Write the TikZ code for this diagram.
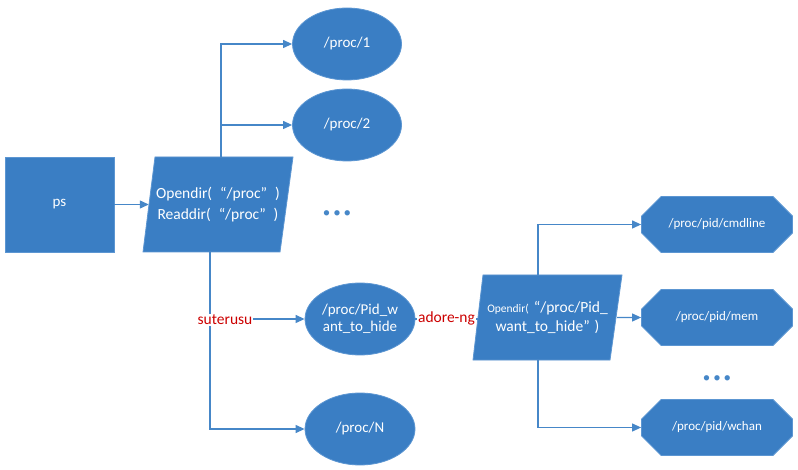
\documentclass[tikz,border=0pt]{standalone}
\usepackage{fontspec}
\setmainfont{Carlito}
\usetikzlibrary{shapes.geometric,shapes.misc,arrows.meta}
\definecolor{shapeblue}{RGB}{58,126,196}
\definecolor{edgeblue}{RGB}{92,150,210}
\definecolor{lineblue}{RGB}{70,135,200}
\definecolor{labelred}{RGB}{204,0,0}
\tikzset{
 shapebase/.style={fill=shapeblue, draw=edgeblue, line width=0.8pt, text=white, inner sep=0pt, font=\fontsize{15}{17}\selectfont},
 boxnode/.style={shapebase, rectangle, minimum width=109pt, minimum height=95pt},
 ellnode/.style={shapebase, ellipse, minimum width=109pt, minimum height=72pt, align=center},
 paraface/.style={fill=shapeblue, draw=edgeblue, line width=0.8pt},
 paratext/.style={rectangle, inner sep=0pt, text=white, align=center},
 octnode/.style={shapebase, chamfered rectangle, chamfered rectangle xsep=14pt, chamfered rectangle ysep=14pt, minimum width=151pt, minimum height=56pt, font=\fontsize{13}{15}\selectfont},
 conn/.style={draw=lineblue, line width=1.2pt},
 arr/.style={conn, -{Triangle[length=9pt,width=8pt]}},
 redlabel/.style={fill=white, text=labelred, inner sep=1pt, font=\fontsize{15.5}{17}\selectfont},
 dotsnode/.style={text=lineblue, font=\fontsize{15}{16}\selectfont},
}
\begin{document}
\begin{tikzpicture}[x=1pt,y=-1pt]
\fill[white] (0,0) rectangle (798,470);
\useasboundingbox (0,0) rectangle (798,470);
\node[boxnode] (ps) at (59.5,204.5) {ps};
% parallelogram 1
\path[paraface] (143,252) -- (155,157) -- (293,157) -- (280,252) -- cycle;
\node[paratext, minimum width=138pt, minimum height=95pt, font=\fontsize{15.5}{21}\selectfont] (P1) at (218,204.5) {Opendir(\hspace{8pt}“/proc”\hspace{8pt})\\Readdir(\hspace{8pt}“/proc”\hspace{8pt})};
\node[ellnode] (E1) at (347,44) {/proc/1};
\node[ellnode] (E2) at (347,125) {/proc/2};
\node[ellnode, minimum width=110pt] (EPid) at (360,319) {/proc/Pid\_w\\ant\_to\_hide};
\node[ellnode, minimum width=110pt] (EN) at (360,429) {/proc/N};
% parallelogram 2
\path[paraface] (473,360) -- (483,275) -- (622,275) -- (610,360) -- cycle;
\node[paratext, minimum width=139pt, minimum height=85pt, font=\fontsize{15.5}{19}\selectfont] (P2) at (547.5,317.5) {{\fontsize{11.5}{13}\selectfont Opendir(}\hspace{5pt}“/proc/Pid\_\\want\_to\_hide”\hspace{5pt})};
\node[octnode] (O1) at (717,224.5) {/proc/pid/cmdline};
\node[octnode] (O2) at (717,317.5) {/proc/pid/mem};
\node[octnode] (O3) at (717,427.5) {/proc/pid/wchan};
\node[dotsnode] (dots1) at (337,214) {•\hspace{3pt}•\hspace{3pt}•};
\node[dotsnode] (dots2) at (717,379) {•\hspace{3pt}•\hspace{3pt}•};
\draw[arr] (ps) -- (P1);
\coordinate (t1) at ([xshift=3pt]P1.north);
\draw[arr] (t1) |- (E1);
\draw[arr] (t1 |- E2) -- (E2);
\coordinate (b1) at ([xshift=-8pt]P1.south);
\draw[arr] (b1) |- (EN);
\draw[arr] (b1 |- EPid) -- (EPid);
\node[redlabel] (lsut) at (225,320) {suterusu};
\draw[conn] (EPid.east) -- (EPid.east -| P2.west);
\node[redlabel] (lado) at (446.5,318) {adore-ng};
\coordinate (t2) at ([xshift=-9.5pt]P2.north);
\draw[arr] (t2) |- (O1);
\draw[arr] (P2) -- (O2);
\coordinate (b2) at ([xshift=-9.5pt]P2.south);
\draw[arr] (b2) |- (O3);
\end{tikzpicture}
\end{document}
